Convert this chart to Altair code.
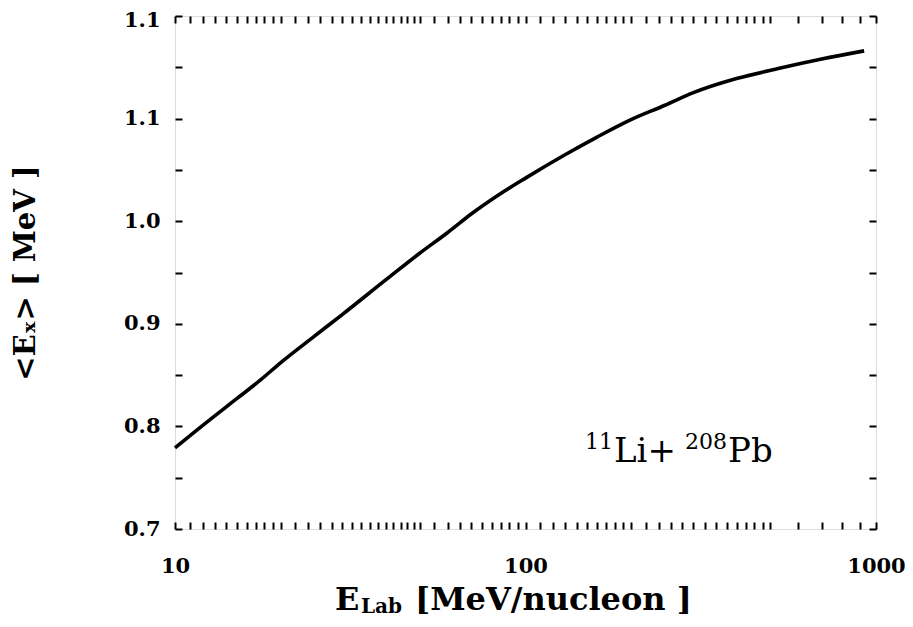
import altair as alt
import pandas as pd

# ---- data ----
energy = [10, 12, 15, 17.5, 20, 25, 30, 40, 50, 60, 70, 85, 100, 130, 160, 200,
          250, 300, 400, 530, 700, 925]
mean_ex = [0.779, 0.801, 0.827, 0.845, 0.862, 0.888, 0.909, 0.943, 0.969, 0.989,
           1.007, 1.027, 1.042, 1.065, 1.082, 1.099, 1.113, 1.125, 1.139, 1.149,
           1.158, 1.166]

x_ticks = [10, 11, 12, 13, 14, 15, 16, 17, 18, 19, 20, 22, 24, 26, 28, 30, 32, 34,
           36, 38, 40, 42, 44, 46, 48, 50, 55, 60, 65, 70, 75, 80, 85, 90, 95, 100,
           110, 120, 130, 140, 150, 160, 170, 180, 190, 200, 220, 240, 260, 280,
           300, 325, 350, 375, 400, 425, 450, 475, 500, 600, 700, 800, 900, 1000]
x_major = [10, 100, 1000]
x_major_labels = ["10", "100", "1000"]

y_ticks = [0.7, 0.75, 0.8, 0.85, 0.9, 0.95, 1.0, 1.05, 1.1, 1.15, 1.2]
y_major = [0.7, 0.8, 0.9, 1.0, 1.1, 1.2]
y_major_labels = ["0.7", "0.8", "0.9", "1.0", "1.1", "1.1"]

reaction_parts = ["11", "Li+", "208", "Pb"]
y_title = "<Eₓ> [ MeV ]"
x_title_main = "E"
x_title_sub = "Lab"
x_title_unit = "[MeV/nucleon ]"

df = pd.DataFrame({"E": energy, "Ex": mean_ex})


def label_expr(values, labels):
    expr = "''"
    for v, l in reversed(list(zip(values, labels))):
        expr = f"abs(datum.value - {v}) < 1e-6 ? '{l}' : ({expr})"
    return expr


W, H = 701, 513
SERIF = "DejaVu Serif"
TICK = 7

xscale = alt.Scale(type="log", domain=[10, 1000], nice=False)
yscale = alt.Scale(domain=[0.7, 1.2], nice=False, zero=False)

common_axis = dict(domain=False, grid=False, tickColor="black", tickWidth=2,
                   tickSize=TICK, offset=-TICK, labelOverlap=False,
                   labelFlush=False, labelBound=False, title=None)

x_bottom = alt.Axis(orient="bottom", values=x_ticks,
                    labelExpr=label_expr(x_major, x_major_labels),
                    labelFont=SERIF, labelFontSize=21, labelFontWeight="bold",
                    labelColor="black", labelPadding=26, **common_axis)
y_left = alt.Axis(orient="left", values=y_ticks,
                  labelExpr=label_expr(y_major, y_major_labels),
                  labelFont=SERIF, labelFontSize=21, labelFontWeight="bold",
                  labelColor="black", labelPadding=15,
                  labelOffset={"condition": {"test": "datum.value > 1.19", "value": 4},
                               "value": 0},
                  **common_axis)
x_top = alt.Axis(orient="top", values=x_ticks, labels=False, **common_axis)
y_right = alt.Axis(orient="right", values=y_ticks, labels=False, **common_axis)

line = alt.Chart(df).mark_line(color="black", strokeWidth=3.6,
                               interpolate="monotone").encode(
    x=alt.X("E:Q", scale=xscale, axis=x_bottom),
    y=alt.Y("Ex:Q", scale=yscale, axis=y_left),
)
line2 = alt.Chart(df).mark_line(opacity=0).encode(
    x=alt.X("E:Q", scale=xscale, axis=x_top),
    y=alt.Y("Ex:Q", scale=yscale, axis=y_right),
)


def txt(s, x, y, size, weight="normal", angle=0, align="left", baseline="alphabetic"):
    return alt.Chart(pd.DataFrame({"t": [s]})).mark_text(
        font=SERIF, fontSize=size, fontWeight=weight, align=align,
        baseline=baseline, angle=angle, color="black"
    ).encode(text="t:N", x=alt.value(x), y=alt.value(y))


ax0, ay0 = 410, 446
annot = [
    txt(reaction_parts[0], ax0, ay0 - 13, 22),
    txt(reaction_parts[1], ax0 + 29, ay0, 34),
    txt(reaction_parts[2], ax0 + 100, ay0 - 13, 22),
    txt(reaction_parts[3], ax0 + 143, ay0, 34),
]

ytitle = txt(y_title, -149, 257, 29, weight="bold", angle=270,
             align="center", baseline="middle")

xt = [
    txt(x_title_main, 160, 594, 32, weight="bold"),
    txt(x_title_sub, 186, 597, 20, weight="bold"),
    txt(x_title_unit, 240, 594, 32, weight="bold"),
]

chart = alt.layer(line, line2, *annot, ytitle, *xt).resolve_axis(
    x="independent", y="independent"
).properties(
    width=W, height=H,
    autosize=alt.AutoSizeParams(type="none"),
    padding={"left": 167, "top": 8, "right": 29, "bottom": 90},
).configure_view(stroke="black", strokeWidth=3).configure(background="white")

chart.save("out.html", embed_options={"renderer": "svg", "actions": False})
